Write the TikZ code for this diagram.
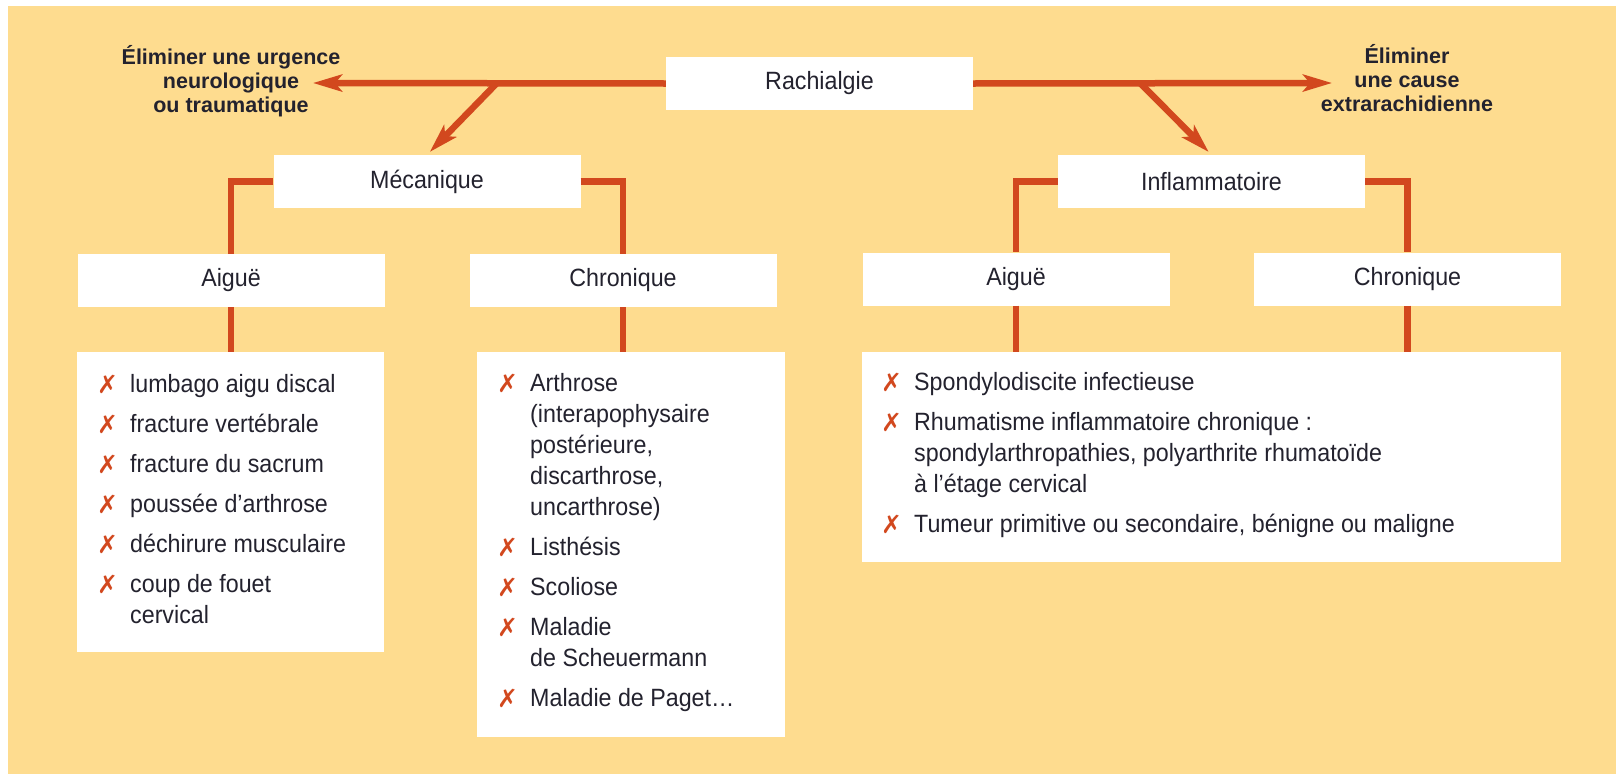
\documentclass[tikz,border=0pt]{standalone}
\usepackage{fontspec}
\setmainfont{Liberation Sans}[FakeStretch=0.93]
\newfontfamily\headfont{Liberation Sans}
\newfontfamily\symfont{DejaVu Sans}
\usetikzlibrary{arrows.meta}

\definecolor{bgyellow}{HTML}{FEDC8F}
\definecolor{linered}{HTML}{D2481E}
\definecolor{inkdark}{HTML}{23222E}

\newcommand{\xm}{\makebox[33pt][l]{\fontsize{25}{25}\symfont\color{linered}\raisebox{-1pt}{✗}}}

\tikzset{
  box/.style={fill=white, minimum width=307pt, minimum height=53pt, inner sep=0pt, text=inkdark, font=\fontsize{25}{30}\selectfont},
  listbox/.style={fill=white, anchor=north west, inner sep=0pt},
  listtxt/.style={anchor=base west, inner sep=0pt, text=inkdark, font=\fontsize{25}{31}\selectfont},
  side/.style={align=center, inner sep=0pt, text=inkdark, font={\fontsize{21.5}{24}\headfont\bfseries}},
  link/.style={draw=linered, line width=6.5pt},
  arr/.style={link, -{Stealth[length=29pt,width=17pt,inset=7pt]}}
}

\begin{document}
\begin{tikzpicture}[x=1pt,y=1pt,yscale=-1]

\useasboundingbox (0,0) rectangle (1616,774);
\fill[white] (0,0) rectangle (1616,774);
\fill[bgyellow] (8,6) rectangle (1616,774);

\node[box] (rach) at (819.5,83.5) {Rachialgie};
\node[box] (meca) at (427,181.5) {Mécanique};
\node[box] (infl) at (1211.5,181.5) {Inflammatoire};
\node[box] (maig) at (231,280.5) {Aiguë};
\node[box] (mchr) at (623,280.5) {Chronique};
\node[box] (iaig) at (1016,279) {Aiguë};
\node[box] (ichr) at (1407.5,279) {Chronique};

\node[listbox, minimum width=307pt, minimum height=300pt] (mlist) at (77,352) {};
\node[listbox, minimum width=308pt, minimum height=385pt] (clist) at (477,352) {};
\node[listbox, minimum width=699pt, minimum height=210pt] (ilist) at (862,352) {};

\node[side] (urg) at (231,81) {Éliminer une urgence\\neurologique\\ou traumatique};
\node[side] (extra) at (1407,78.5) {Éliminer\\une cause\\extrarachidienne};

\coordinate (ltip) at (313,83);
\coordinate (rtip) at (1332,83);
\coordinate (lfork) at (497,83);
\coordinate (rfork) at (1140,83);

\draw[arr] (rach.west) -- (ltip);
\draw[arr] (rach.east) -- (rtip);
\draw[arr, shorten >=4pt] (lfork) -- (meca.north);
\draw[arr, shorten >=4pt] (rfork) -- (infl.north);

\draw[link] (meca.west) -| (maig.north);
\draw[link] (meca.east) -| (mchr.north);
\draw[link] (infl.west) -| (iaig.north);
\draw[link] (infl.east) -| (ichr.north);

\draw[link] (maig.south) -- (maig.south |- mlist.north);
\draw[link] (mchr.south) -- (mchr.south |- clist.north);
\draw[link] (iaig.south) -- (iaig.south |- ilist.north);
\draw[link] (ichr.south) -- (ichr.south |- ilist.north);

\node[listtxt] (mtxt) at (97,392) {\begin{tabular}[t]{@{}l@{}l@{}}
\xm & lumbago aigu discal\\[9pt]
\xm & fracture vertébrale\\[9pt]
\xm & fracture du sacrum\\[9pt]
\xm & poussée d’arthrose\\[9pt]
\xm & déchirure musculaire\\[9pt]
\xm & coup de fouet\\
    & cervical
\end{tabular}};

\node[listtxt] (ctxt) at (497,391) {\begin{tabular}[t]{@{}l@{}l@{}}
\xm & Arthrose\\
    & (interapophysaire\\
    & postérieure,\\
    & discarthrose,\\
    & uncarthrose)\\[9pt]
\xm & Listhésis\\[9pt]
\xm & Scoliose\\[9pt]
\xm & Maladie\\
    & de Scheuermann\\[9pt]
\xm & Maladie de Paget…
\end{tabular}};

\node[listtxt] (itxt) at (881,390) {\begin{tabular}[t]{@{}l@{}l@{}}
\xm & Spondylodiscite infectieuse\\[9pt]
\xm & Rhumatisme inflammatoire chronique :\\
    & spondylarthropathies, polyarthrite rhumatoïde\\
    & à l’étage cervical\\[9pt]
\xm & Tumeur primitive ou secondaire, bénigne ou maligne
\end{tabular}};

\end{tikzpicture}
\end{document}
